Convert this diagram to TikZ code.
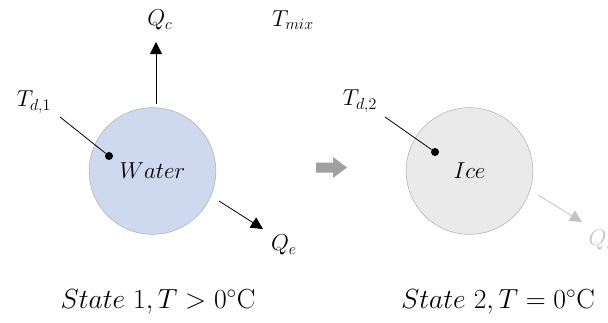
\documentclass[tikz,border=0pt]{standalone}
\usepackage{amsmath}
\usepackage{tikz}
\usetikzlibrary{arrows.meta, positioning}
\definecolor{Agua}{RGB}{206, 217, 240}
\definecolor{Hielo}{RGB}{234, 234, 234}
\definecolor{Borde}{RGB}{175, 175, 175}
\definecolor{Gris}{RGB}{160, 160, 160}
\definecolor{GrisClaro}{RGB}{195, 195, 195}

\begin{document}
\begin{tikzpicture}[
        x=0.75pt, y=-0.75pt,
        drop/.style={
            circle,
            draw=Borde,
            thin,
            minimum size=95pt,
            inner sep=0pt,
            font=\fontsize{17}{20}\selectfont
        },
        lbl/.style={
            inner sep=1pt,
            font=\fontsize{18}{21}\selectfont
        },
        caption/.style={
            inner sep=1pt,
            font=\fontsize{20}{24}\selectfont
        },
        flux/.style={
            -{Triangle[width=9pt,length=9pt]},
            semithick,
            draw=black
        },
        probe/.style={
            circle,
            fill=black,
            inner sep=0pt,
            minimum size=6pt
        }
    ]
        \useasboundingbox (0,0) rectangle (608,322);

        % State 1: water droplet
        \node[drop, fill=Agua] (water) at (152.5,171) {$Water$};
        \node[probe] (p1) at (109,156) {};
        \node[lbl] (td1) at (34,102) {$T_{d,1}$};
        \coordinate (td1end) at (60,117);
        \draw[semithick] (td1end) -- (p1);
        \node[lbl] (qc) at (160,20) {$Q_c$};
        \node[lbl] (tmix) at (293,20) {$T_{mix}$};
        \coordinate (qcstart) at (156,104);
        \coordinate (qcend) at (156,42);
        \draw[flux] (qcstart) -- (qcend);
        \node[lbl] (qe) at (284,245) {$Q_e$};
        \coordinate (qestart) at (219,201);
        \coordinate (qeend) at (263,229);
        \draw[flux] (qestart) -- (qeend);
        \node[caption] (state1) at (158,302) {$State\ 1, T>0^{\circ}\mathrm{C}$};

        % transition arrow (block arrow between the two states)
        \fill[Gris] (316,162.5) -- (333,162.5) -- (333,157) -- (347,167.5)
            -- (333,178) -- (333,172.5) -- (316,172.5) -- cycle;

        % State 2: ice droplet
        \node[drop, fill=Hielo] (ice) at (469.5,171) {$Ice$};
        \node[probe] (p2) at (435,152) {};
        \node[lbl] (td2) at (360,101) {$T_{d,2}$};
        \coordinate (td2end) at (385,117);
        \draw[semithick] (td2end) -- (p2);
        \coordinate (qsstart) at (538,195);
        \coordinate (qsend) at (582,222);
        \draw[flux, draw=GrisClaro] (qsstart) -- (qsend);
        \node[lbl, text=GrisClaro, anchor=west] (qs) at (587,240) {$Q_s$};
        \node[caption] (state2) at (498,302) {$State\ 2, T=0^{\circ}\mathrm{C}$};
    \end{tikzpicture}
\end{document}
